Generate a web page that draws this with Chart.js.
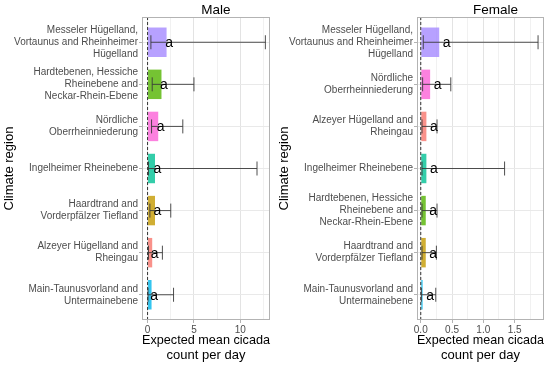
<!DOCTYPE html>
<html>
<head>
<meta charset="utf-8">
<script src="https://cdn.jsdelivr.net/npm/chart.js@4.4.0/dist/chart.umd.min.js"></script>
<style>
  body { margin: 0; background: #fff; }
  canvas { position: absolute; top: 0; }
</style>
</head>
<body>
<canvas id="male" width="275" height="366" style="left:0"></canvas>
<canvas id="female" width="275" height="366" style="left:275px"></canvas>
<script>
// male panel, top to bottom
const maleRegions = [
  "Messeler Hügelland,\nVortaunus and Rheinheimer\nHügelland",
  "Hardtebenen, Hessiche\nRheinebene and\nNeckar-Rhein-Ebene",
  "Nördliche\nOberrheinniederung",
  "Ingelheimer Rheinebene",
  "Haardtrand and\nVorderpfälzer Tiefland",
  "Alzeyer Hügelland and\nRheingau",
  "Main-Taunusvorland and\nUntermainebene"
];
const maleMean = [2.05, 1.5, 1.15, 0.8, 0.8, 0.5, 0.43];
const maleLow = [0.36, 0.5, 0.43, 0.1, 0.25, 0.1, 0.05];
const maleHigh = [12.7, 5.0, 3.8, 11.8, 2.5, 1.6, 2.8];
const maleLetters = ["a", "a", "a", "a", "a", "a", "a"];
const maleTicks = [0, 5, 10];
const maleTickLabels = ["0", "5", "10"];
const maleMinorTicks = [2.5, 7.5, 12.5];

// female panel, top to bottom
const femaleRegions = [
  "Messeler Hügelland,\nVortaunus and Rheinheimer\nHügelland",
  "Nördliche\nOberrheinniederung",
  "Alzeyer Hügelland and\nRheingau",
  "Ingelheimer Rheinebene",
  "Hardtebenen, Hessiche\nRheinebene and\nNeckar-Rhein-Ebene",
  "Haardtrand and\nVorderpfälzer Tiefland",
  "Main-Taunusvorland and\nUntermainebene"
];
const femaleMean = [0.295, 0.15, 0.09, 0.09, 0.08, 0.08, 0.03];
const femaleLow = [0.04, 0.03, 0.02, 0.02, 0.02, 0.02, 0.01];
const femaleHigh = [1.875, 0.48, 0.26, 1.34, 0.26, 0.25, 0.24];
const femaleLetters = ["a", "a", "a", "a", "a", "a", "a"];
const femaleTicks = [0, 0.5, 1, 1.5];
const femaleTickLabels = ["0.0", "0.5", "1.0", "1.5"];
const femaleMinorTicks = [0.25, 0.75, 1.25, 1.75];

const regionColors = {
  "Messeler": "rgba(165,138,255,0.8)",
  "Hardtebenen": "rgba(83,180,0,0.8)",
  "Nördliche": "rgba(251,97,215,0.8)",
  "Ingelheimer": "rgba(0,192,148,0.8)",
  "Haardtrand": "rgba(196,154,0,0.8)",
  "Alzeyer": "rgba(248,118,109,0.8)",
  "Main-Taunusvorland": "rgba(0,182,235,0.8)"
};
const colorFor = name => regionColors[name.split(/[ ,\n]/)[0]];

const FONT = '"Liberation Sans", Arial, sans-serif';

const decorations = {
  id: 'decorations',
  afterDatasetsDraw(chart, args, o) {
    const { ctx, chartArea: a, scales: { x, y } } = chart;
    ctx.save();
    // dashed zero line
    const x0 = x.getPixelForValue(0);
    ctx.strokeStyle = '#333';
    ctx.lineWidth = 1;
    ctx.setLineDash([3, 2]);
    ctx.beginPath();
    ctx.moveTo(x0, a.top);
    ctx.lineTo(x0, a.bottom);
    ctx.stroke();
    ctx.setLineDash([]);
    // error bars
    ctx.strokeStyle = '#3a3a3a';
    ctx.lineWidth = 0.9;
    o.low.forEach((lo, i) => {
      const yc = y.getPixelForValue(i);
      const xl = x.getPixelForValue(lo);
      const xh = x.getPixelForValue(o.high[i]);
      ctx.beginPath();
      ctx.moveTo(xl, yc); ctx.lineTo(xh, yc);
      ctx.moveTo(xl, yc - 7); ctx.lineTo(xl, yc + 7);
      ctx.moveTo(xh, yc - 7); ctx.lineTo(xh, yc + 7);
      ctx.stroke();
    });
    // letters
    ctx.fillStyle = '#000';
    ctx.font = '14px ' + FONT;
    ctx.textAlign = 'center';
    ctx.textBaseline = 'middle';
    o.letters.forEach((t, i) => {
      ctx.fillText(t, x.getPixelForValue(o.mean[i]) + o.nudge, y.getPixelForValue(i) + 1);
    });
    // panel border
    ctx.strokeStyle = '#b3b3b3';
    ctx.lineWidth = 1;
    ctx.strokeRect(a.left + 0.5, a.top + 0.5, a.right - a.left - 1, a.bottom - a.top - 1);
    // panel title
    ctx.font = '13.5px ' + FONT;
    ctx.fillText(o.title, (a.left + a.right) / 2 + o.titleShift, 10);
    ctx.restore();
  }
};

function makeChart(id, title, regions, mean, low, high, letters, ticks, tickLabels, minorTicks, xMin, xMax, nudge, padRight, titleShift) {
  return new Chart(document.getElementById(id), {
    type: 'bar',
    data: {
      datasets: [{
        data: mean.map((v, i) => ({ x: v, y: i })),
        backgroundColor: regions.map(colorFor),
        barPercentage: 0.7,
        categoryPercentage: 1
      }]
    },
    options: {
      indexAxis: 'y',
      responsive: false,
      animation: false,
      layout: { padding: { top: 17, right: padRight, left: 0, bottom: 0 } },
      plugins: {
        legend: { display: false },
        tooltip: { enabled: false },
        decorations: { title, low, high, mean, letters, nudge, titleShift }
      },
      scales: {
        x: {
          type: 'linear',
          min: xMin,
          max: xMax,
          afterBuildTicks: s => {
            s.ticks = ticks.concat(minorTicks).sort((p, q) => p - q).map(v => ({ value: v }));
          },
          afterFit: s => { s.height = 46; },
          ticks: {
            autoSkip: false,
            maxRotation: 0,
            padding: 1,
            color: '#4d4d4d',
            font: { family: FONT, size: 10 },
            callback: v => {
              const k = ticks.indexOf(v);
              return k >= 0 ? tickLabels[k] : '';
            }
          },
          grid: {
            color: c => ticks.includes(c.tick.value) ? '#e3e3e3' : '#f1f1f1',
            tickColor: c => ticks.includes(c.tick.value) ? '#b3b3b3' : 'rgba(0,0,0,0)',
            tickLength: 3
          },
          border: { display: false },
          title: {
            display: true,
            text: ['Expected mean cicada', 'count per day'],
            color: '#000',
            font: { family: FONT, size: 13, lineHeight: 1.15 },
            padding: { top: 0, bottom: 3 }
          }
        },
        y: {
          type: 'linear',
          reverse: true,
          offset: false,
          min: -0.6,
          max: regions.length - 0.4,
          afterBuildTicks: s => {
            s.ticks = regions.map((r, i) => ({ value: i }));
          },
          afterFit: s => { s.width = 142; },
          ticks: {
            autoSkip: false,
            padding: 1,
            color: '#4d4d4d',
            font: { family: FONT, size: 10, lineHeight: 1.2 },
            callback: v => regions[v].split('\n')
          },
          grid: {
            offset: false,
            color: '#e9e9e9',
            tickColor: '#b3b3b3',
            tickLength: 3
          },
          border: { display: false },
          title: {
            display: true,
            text: 'Climate region',
            color: '#000',
            font: { family: FONT, size: 13 },
            padding: { top: 2, bottom: 0 }
          }
        }
      }
    },
    plugins: [decorations]
  });
}

makeChart('male', 'Male', maleRegions, maleMean, maleLow, maleHigh, maleLetters,
  maleTicks, maleTickLabels, maleMinorTicks, -0.6, 13.2, 2.5, 5, 10);
makeChart('female', 'Female', femaleRegions, femaleMean, femaleLow, femaleHigh, femaleLetters,
  femaleTicks, femaleTickLabels, femaleMinorTicks, -0.06, 1.97, 7.5, 6, 15);
</script>
</body>
</html>
